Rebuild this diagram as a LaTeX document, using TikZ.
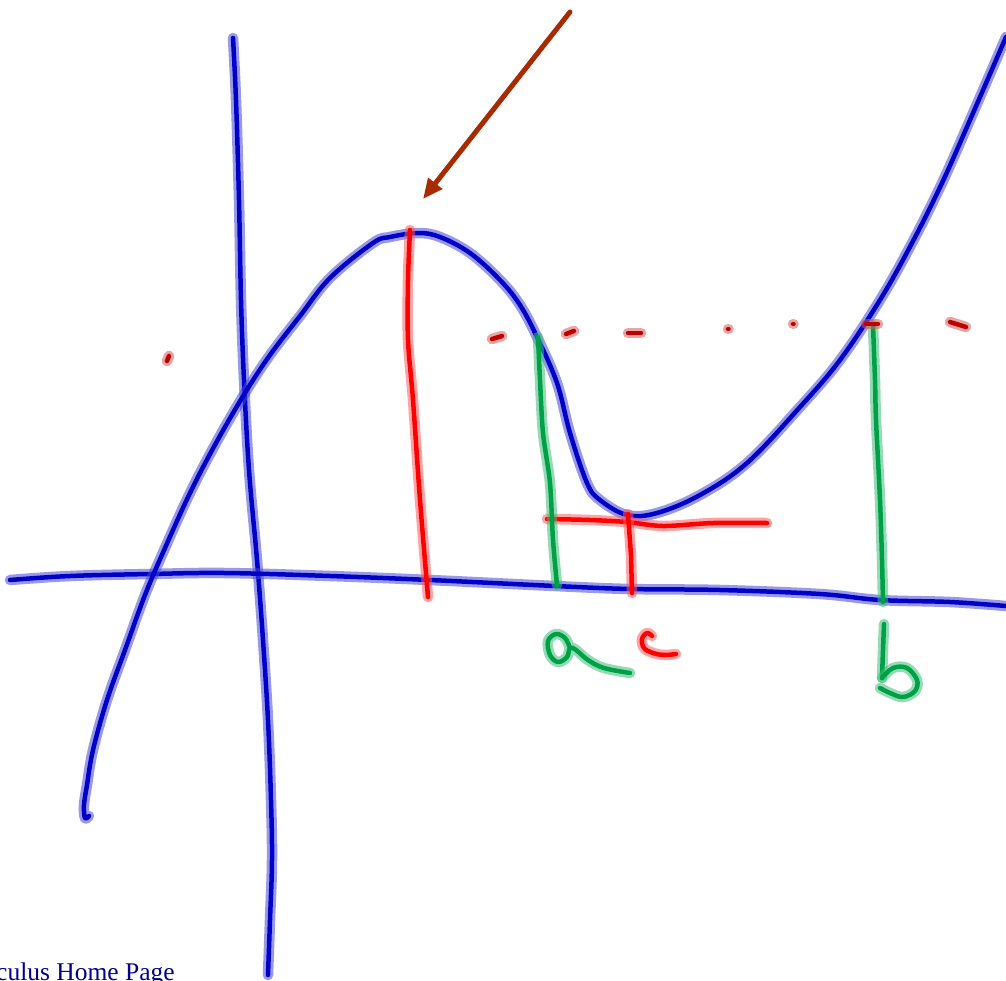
\documentclass[tikz,border=0pt]{standalone}
\usepackage{fontspec}
\setmainfont{Liberation Serif}
\usetikzlibrary{arrows.meta}
\definecolor{inkblue}{RGB}{0,0,200}
\definecolor{haloblue}{RGB}{70,70,215}
\definecolor{inkred}{RGB}{255,0,0}
\definecolor{halored}{RGB}{255,90,90}
\definecolor{inkgreen}{RGB}{0,160,70}
\definecolor{halogreen}{RGB}{60,190,120}
\definecolor{inkdark}{RGB}{190,0,0}
\definecolor{halodark}{RGB}{215,90,90}
\definecolor{inkarrow}{RGB}{168,42,0}
\definecolor{linkblue}{RGB}{0,0,140}
\tikzset{
  pen/.style n args={2}{draw=#1, line width=4.5pt, line cap=round, line join=round,
    preaction={draw=#2, line width=10.5pt, opacity=0.55, line cap=round, line join=round}},
  blueink/.style={pen={inkblue}{haloblue}},
  redink/.style={pen={inkred}{halored}},
  greenink/.style={pen={inkgreen}{halogreen}},
  darkink/.style={pen={inkdark}{halodark}},
  arrowink/.style={draw=inkarrow, line width=5pt, line cap=round,
    -{Triangle[length=20pt,width=17pt]}},
  footer/.style={text=linkblue, font=\fontsize{25.5}{30}\selectfont, inner sep=0pt, anchor=base west}
}
\begin{document}
\begin{tikzpicture}[x=1pt,y=-1pt]
\useasboundingbox (0,0) rectangle (1006,980);
% axes
\draw[blueink] plot[smooth,tension=0.6] coordinates {(233,38) (236,100) (239,200) (241,300) (244,380) (249,470) (257,560) (263,640) (268,720) (271,800) (272,860) (270,920) (268,975)};
\draw[blueink] plot[smooth,tension=0.6] coordinates {(10,580) (70,576) (150,574) (225,573) (330,576) (430,580) (555,586) (630,589) (720,590) (820,594) (880,600) (950,602) (1006,606)};
% curve
\draw[blueink] plot[smooth,tension=0.6] coordinates {(89,816) (85,818) (84,805) (87,785) (93,750) (107,700) (125,650) (145,595) (165,548) (190,493) (216,443) (245,393) (270,355) (300,316) (330,278) (373,243) (390,237) (418,233) (440,237) (470,253) (500,280) (520,305) (537,337) (557,383) (570,433) (587,483) (600,500) (627,515) (657,513) (700,495) (747,463) (800,407) (840,360) (880,300) (912,243) (942,183) (970,120) (1006,37)};
% red verticals and horizontal
\draw[redink] plot[smooth,tension=0.5] coordinates {(410,230) (408,280) (408,340) (413,400) (420,500) (428,597)};
\draw[redink] plot[smooth,tension=0.5] coordinates {(547,519) (590,520) (627,522) (663,526) (713,523) (767,523)};
\draw[redink] (628,514) -- (631,555) -- (632,593);
% green verticals
\draw[greenink] plot[smooth,tension=0.5] coordinates {(538,337) (540,380) (543,433) (550,483) (553,540) (557,585)};
\draw[greenink] plot[smooth,tension=0.5] coordinates {(873,325) (875,380) (876,420) (880,500) (882,560) (883,602)};
% dotted level line
\draw[darkink] (167,361) -- (169,356);
\draw[darkink] (492,339) -- (502,336);
\draw[darkink] (566,334) -- (574,331);
\draw[darkink] (628,333) -- (641,333);
\draw[darkink] (728,329) -- (728.5,329);
\draw[darkink] (793,324) -- (793.5,324);
\draw[darkink] (866,324) -- (878,324);
\draw[darkink] (950,322) -- (966,327);
% arrow
\draw[arrowink] (570,12) -- (423,199);
% handwritten labels
\draw[greenink] plot[smooth,tension=0.6] coordinates {(570,648) (565,638) (556,634) (548,641) (550,655) (558,662) (567,657) (570,648) (576,650) (588,660) (604,668) (630,673)};
\draw[redink] plot[smooth,tension=0.6] coordinates {(652,636) (647,633) (642,639) (644,648) (653,653) (664,655) (676,654)};
\draw[greenink] plot[smooth,tension=0.6] coordinates {(884,624) (883,650) (882,678)};
\draw[greenink] plot[smooth,tension=0.6] coordinates {(882,678) (893,668) (907,668) (917,680) (915,691) (903,697) (890,693) (880,688)};
% footer text
\node[footer] (home) at (-4,980) {culus Home Page};
\end{tikzpicture}
\end{document}
